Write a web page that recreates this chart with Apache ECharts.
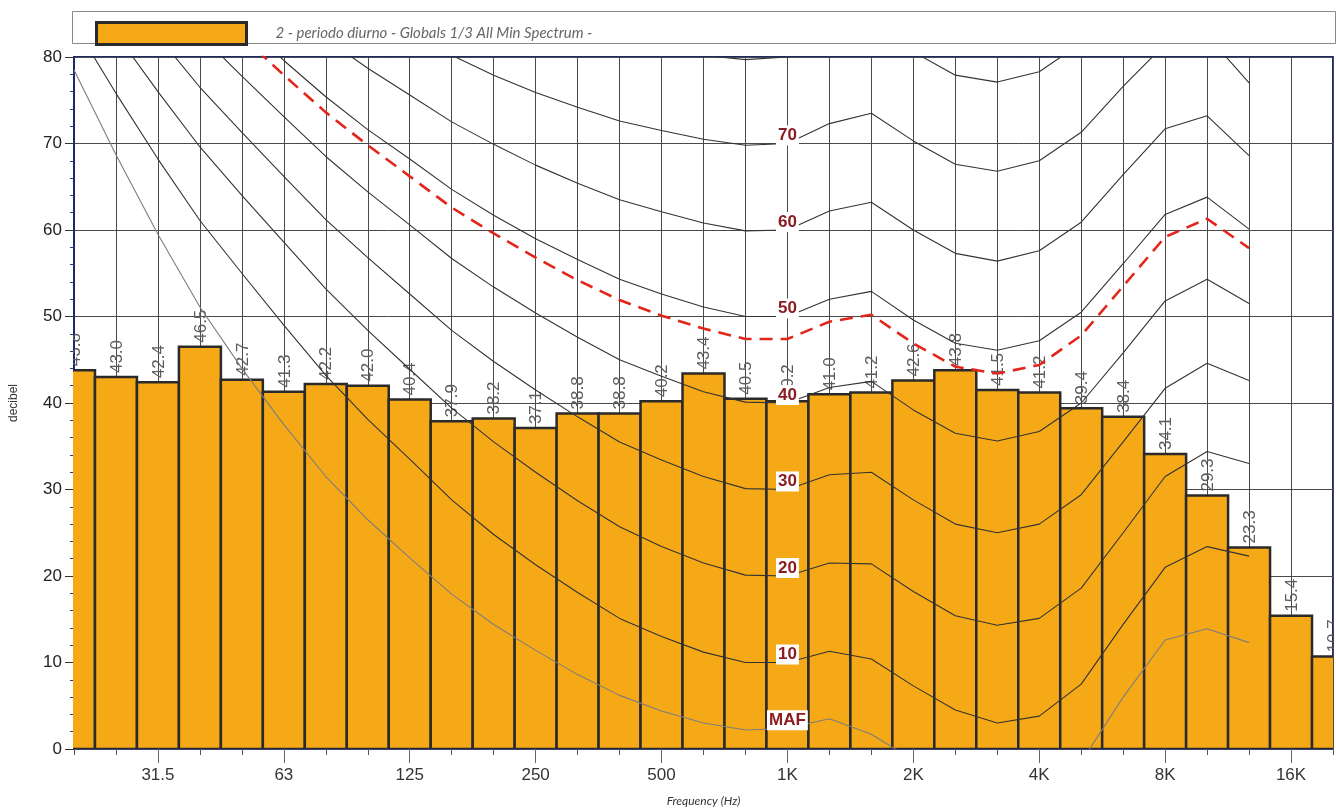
<!DOCTYPE html>
<html>
<head>
<meta charset="utf-8">
<title>Globals 1/3 All Min Spectrum</title>
<script src="https://cdn.jsdelivr.net/npm/echarts@6/dist/echarts.min.js"></script>
<style>
  html, body { margin: 0; padding: 0; background: #fff; }
  #chart { width: 1336px; height: 812px; }
</style>
</head>
<body>
<div id="chart"></div>
<script>
// 1/3 octave band centres (index 0..30)
const bands = ['20', '25', '31.5', '40', '50', '63', '80', '100', '125', '160', '200', '250', '315', '400', '500', '630', '800',
  '1K', '1.25K', '1.6K', '2K', '2.5K', '3.15K', '4K', '5K', '6.3K', '8K', '10K', '12.5K', '16K', '20K']
const shownTicks = ['31.5', '63', '125', '250', '500', '1K', '2K', '4K', '8K', '16K']

// measured spectrum
const seriesName = '2 - periodo diurno - Globals 1/3 All Min Spectrum -'
const levels = [43.8, 43.0, 42.4, 46.5, 42.7, 41.3, 42.2, 42.0, 40.4, 37.9, 38.2, 37.1, 38.8, 38.8, 40.2, 43.4,
  40.5, 40.2, 41.0, 41.2, 42.6, 43.8, 41.5, 41.2, 39.4, 38.4, 34.1, 29.3, 23.3, 15.4, 10.7]

// equal loudness contours, 20 Hz .. 12.5 kHz (null = not drawn)
const mafCurve = [78.5, 68.7, 59.5, 51.1, 44.0, 37.5, 31.5, 26.5, 22.1, 17.9, 14.4, 11.4, 8.6, 6.2, 4.4, 3.0, 2.2,
  2.4, 3.5, 1.7, -1.3, -4.2, -6.0, -5.4, -1.5, 6.0, 12.6, 13.9, 12.3]
const phon10 = [83.8, 75.8, 68.2, 61.1, 55.0, 49.0, 43.2, 38.1, 33.5, 28.8, 24.8, 21.3, 18.1, 15.1, 13.0, 11.2, 10.0,
  10.0, 11.3, 10.4, 7.3, 4.5, 3.0, 3.8, 7.5, 14.4, 21.0, 23.4, 22.3]
const phon20 = [null, 82.7, 76.0, 69.6, 64.0, 58.6, 53.2, 48.4, 43.9, 39.4, 35.5, 32.0, 28.7, 25.7, 23.4, 21.5, 20.1,
  20.0, 21.5, 21.4, 18.2, 15.4, 14.3, 15.1, 18.6, 25.0, 31.5, 34.4, 33.0]
const phon30 = [null, null, 82.4, 76.5, 71.3, 66.2, 61.2, 56.8, 52.6, 48.4, 44.8, 41.5, 38.4, 35.5, 33.4, 31.5, 30.1,
  30.0, 31.7, 32.0, 28.8, 26.0, 25.0, 26.0, 29.4, 35.5, 41.7, 44.6, 42.6]
const phon40 = [null, null, null, 82.6, 77.8, 73.1, 68.5, 64.4, 60.6, 56.7, 53.4, 50.4, 47.6, 45.0, 43.1, 41.3, 40.1,
  40.0, 41.8, 42.5, 39.2, 36.5, 35.6, 36.7, 40.0, 45.8, 51.8, 54.3, 51.5]
const phon50 = [null, null, null, null, 84.0, 79.6, 75.4, 71.6, 68.2, 64.7, 61.7, 59.0, 56.6, 54.3, 52.6, 51.1, 50.0,
  50.0, 52.0, 52.9, 49.6, 46.9, 46.1, 47.2, 50.5, 56.1, 61.8, 63.8, 60.1]
const phon60 = [null, null, null, null, null, 85.9, 82.1, 78.7, 75.6, 72.5, 69.9, 67.5, 65.4, 63.5, 62.1, 60.8, 59.9,
  60.0, 62.2, 63.2, 60.0, 57.3, 56.4, 57.6, 60.9, 66.4, 71.7, 73.2, 68.6]
const phon70 = [null, null, null, null, null, null, null, 85.6, 82.9, 80.2, 77.9, 75.9, 74.2, 72.6, 71.5, 70.5, 69.8,
  70.0, 72.3, 73.5, 70.3, 67.6, 66.8, 68.0, 71.3, 76.6, 81.5, 82.5, 77.0]
const phon80 = [null, null, null, null, null, null, null, null, null, 87.8, 85.9, 84.3, 82.9, 81.7, 80.9, 80.2, 79.7,
  80.0, 82.5, 83.7, 80.6, 77.9, 77.1, 78.3, 81.6, 86.8, 91.4, 91.7, 85.4]
// contour at the spectrum loudness level (dashed red)
const loudnessCurve = [null, null, null, null, 82.4, 77.9, 73.6, 69.8, 66.2, 62.6, 59.6, 56.8, 54.2, 51.9, 50.1, 48.6,
  47.4, 47.4, 49.4, 50.2, 46.9, 44.2, 43.4, 44.4, 47.8, 53.5, 59.2, 61.3, 57.9]

const contours = [
  { name: 'MAF', values: mafCurve, color: '#7d7d7d' },
  { name: '10', values: phon10, color: '#333' },
  { name: '20', values: phon20, color: '#333' },
  { name: '30', values: phon30, color: '#333' },
  { name: '40', values: phon40, color: '#333' },
  { name: '50', values: phon50, color: '#333' },
  { name: '60', values: phon60, color: '#333' },
  { name: '70', values: phon70, color: '#333' },
  { name: '80', values: phon80, color: '#333', noLabel: true }
]

const labelIdx = bands.indexOf('1K')
const majorTicks = bands.map((b, i) => shownTicks.includes(b) ? i : -1).filter(i => i >= 0)
const font = 'Liberation Sans, Arial, sans-serif'
const barColor = '#f6a917'
const barBorder = '#2a2a2a'

function curveData (values, label) {
  const out = []
  values.forEach((v, i) => {
    if (v == null) return
    const item = { value: [i, v] }
    if (label && i === labelIdx) {
      item.label = {
        show: true,
        formatter: label,
        position: 'inside',
        offset: [0, -8],
        color: '#8a1c22',
        fontWeight: 'bold',
        fontSize: 17,
        fontFamily: font,
        backgroundColor: '#fff',
        padding: [2, 2, 1, 2]
      }
    }
    out.push(item)
  })
  return out
}

// bars as custom series so the half bands at both ends are cut by the grid
function renderBand (params, api) {
  const i = api.value(0)
  const v = api.value(1)
  const tl = api.coord([i - 0.5, v])
  const br = api.coord([i + 0.5, 0])
  const top = api.coord([i, v])
  return {
    type: 'group',
    children: [{
      type: 'rect',
      shape: { x: tl[0], y: tl[1], width: br[0] - tl[0], height: br[1] - tl[1] },
      style: { fill: barColor, stroke: barBorder, lineWidth: 2.5 }
    }, {
      type: 'text',
      x: top[0] + 1,
      y: top[1] - 4,
      rotation: Math.PI / 2,
      style: {
        text: v.toFixed(1),
        fill: '#5c5c5c',
        font: '17px ' + font,
        align: 'left',
        verticalAlign: 'middle'
      }
    }]
  }
}

const chart = echarts.init(document.getElementById('chart'))

const lineSeries = contours.map(c => ({
  name: 'c' + c.name,
  type: 'line',
  z: 5,
  data: curveData(c.values, c.noLabel ? null : c.name),
  symbol: 'circle',
  symbolSize: 0,
  showSymbol: true,
  smooth: false,
  silent: true,
  animation: false,
  lineStyle: { color: c.color, width: 1.1 },
  itemStyle: { color: c.color }
}))

lineSeries.push({
  name: 'loudness',
  type: 'line',
  z: 4,
  data: curveData(loudnessCurve, null),
  showSymbol: false,
  silent: true,
  animation: false,
  lineStyle: { color: '#e3261c', width: 2.6, type: [13, 8] }
})

const option = {
  animation: false,
  textStyle: { fontFamily: font },
  graphic: [{
    type: 'rect',
    shape: { x: 72.5, y: 11.5, width: 1263, height: 32 },
    style: { fill: '#fff', stroke: '#8a8a8a', lineWidth: 1 },
    z: -1
  }],
  legend: {
    data: [seriesName],
    left: 90,
    top: 16,
    icon: 'rect',
    itemWidth: 150,
    itemHeight: 22,
    selectedMode: false,
    itemStyle: { color: barColor, borderColor: barBorder, borderWidth: 3 },
    textStyle: { color: '#666', fontStyle: 'italic', fontSize: 15, fontFamily: 'Lato, sans-serif', padding: [0, 0, 0, 24] }
  },
  grid: {
    left: 72,
    right: 1,
    top: 57,
    bottom: 60,
    show: true,
    borderColor: '#1b2a6b',
    borderWidth: 2
  },
  xAxis: [{
    type: 'value',
    min: 0,
    max: 30,
    interval: 1,
    name: 'Frequency (Hz)',
    nameLocation: 'middle',
    nameGap: 46,
    nameTextStyle: { fontStyle: 'italic', fontSize: 12, color: '#333', fontFamily: 'Lato, sans-serif' },
    axisLine: { lineStyle: { color: '#34407a', width: 1.5 } },
    axisTick: { length: 6, lineStyle: { color: '#555' } },
    axisLabel: {
      fontSize: 17,
      color: '#333',
      margin: 18,
      formatter: v => shownTicks.includes(bands[v]) ? bands[v] : ''
    },
    splitLine: { show: true, lineStyle: { color: '#4a4a4a', width: 1 } }
  }, {
    type: 'value',
    min: 0,
    max: 30,
    interval: 1,
    position: 'bottom',
    axisLine: { show: false },
    axisLabel: { show: false },
    splitLine: { show: false },
    axisTick: { show: true, customValues: majorTicks, length: 14, lineStyle: { color: '#666' } }
  }],
  yAxis: {
    type: 'value',
    min: 0,
    max: 80,
    interval: 10,
    name: 'decibel',
    nameLocation: 'middle',
    nameGap: 54,
    nameTextStyle: { fontSize: 12, color: '#333' },
    axisLine: { show: true, lineStyle: { color: '#1b2a6b', width: 2 } },
    axisTick: { show: true, length: 9, lineStyle: { color: '#333' } },
    minorTick: { show: true, splitNumber: 5, length: 4, lineStyle: { color: '#2b3a7b' } },
    axisLabel: { fontSize: 17, color: '#222', margin: 12 },
    splitLine: { show: true, lineStyle: { color: '#4a4a4a', width: 1 } }
  },
  series: [{
    name: seriesName,
    type: 'custom',
    z: 2,
    clip: true,
    silent: true,
    renderItem: renderBand,
    encode: { x: 0, y: 1 },
    data: levels.map((v, i) => [i, v]),
    itemStyle: { color: barColor }
  }].concat(lineSeries)
}

chart.setOption(option)
</script>
</body>
</html>
